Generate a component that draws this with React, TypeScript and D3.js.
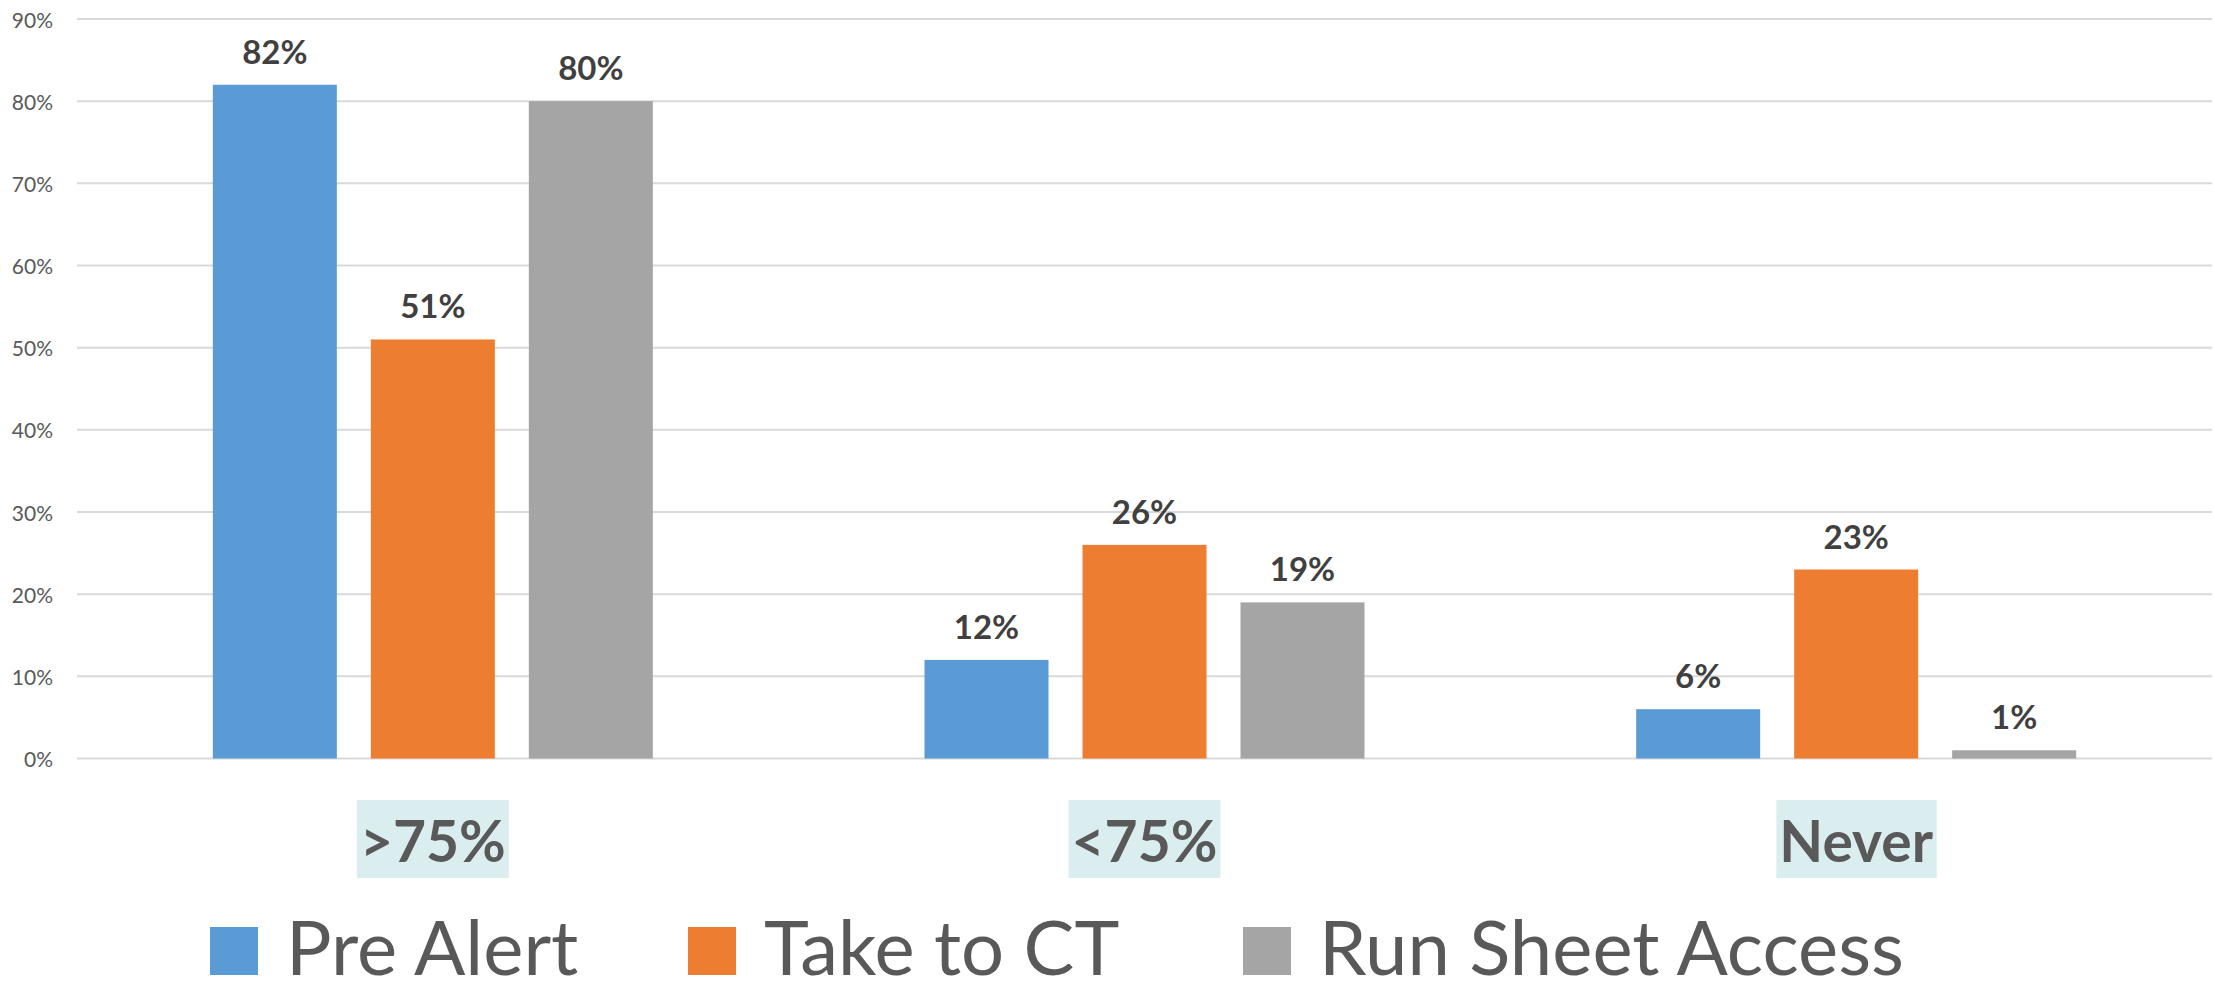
import React, { useEffect, useRef } from "react";
import * as d3 from "d3";

const categories = [">75%", "<75%", "Never"];
const seriesNames = ["Pre Alert", "Take to CT", "Run Sheet Access"];
const preAlert = [82, 12, 6];
const takeToCT = [51, 26, 23];
const runSheetAccess = [80, 19, 1];
const seriesColors = ["#5B9BD5", "#ED7D31", "#A5A5A5"];
const yTicks = [0, 10, 20, 30, 40, 50, 60, 70, 80, 90];
const legendX = [210, 688, 1243];

const W = 2215;
const H = 993;
const FONT = "Lato, 'Open Sans', sans-serif";

export default function App() {
  const ref = useRef<SVGSVGElement | null>(null);

  useEffect(() => {
    document.body.style.margin = "0";
    const svg = d3.select(ref.current);
    svg.selectAll("*").remove();

    const left = 77;
    const right = 2212;
    const top = 19;
    const bottom = 758.5;

    const x0 = d3.scaleBand<string>().domain(categories).range([left, right]).padding(0);
    const y = d3.scaleLinear().domain([0, 90]).range([bottom, top]);

    const barW = 124;
    const barGap = 34;
    const x1 = d3
      .scaleOrdinal<string, number>()
      .domain(seriesNames)
      .range(seriesNames.map((_, i) => (i - 1) * (barW + barGap)));

    const series = [preAlert, takeToCT, runSheetAccess];

    // gridlines and y tick labels
    const grid = svg.append("g");
    grid
      .selectAll("line")
      .data(yTicks)
      .join("line")
      .attr("x1", left)
      .attr("x2", right)
      .attr("y1", (d) => y(d))
      .attr("y2", (d) => y(d))
      .attr("stroke", "#D9D9D9")
      .attr("stroke-width", 2);
    grid
      .selectAll("text")
      .data(yTicks)
      .join("text")
      .attr("x", 53)
      .attr("y", (d) => y(d))
      .attr("text-anchor", "end")
      .attr("dominant-baseline", "central")
      .attr("font-family", FONT)
      .attr("font-size", 21)
      .attr("fill", "#595959")
      .text((d) => `${d}%`);

    // bars and value labels
    series.forEach((vals, si) => {
      const g = svg.append("g");
      const name = seriesNames[si];
      g.selectAll("rect")
        .data(vals)
        .join("rect")
        .attr("x", (_, i) => x0(categories[i])! + x0.bandwidth() / 2 + x1(name) - barW / 2)
        .attr("y", (d) => y(d))
        .attr("width", barW)
        .attr("height", (d) => bottom - y(d))
        .attr("fill", seriesColors[si]);
      g.selectAll("text")
        .data(vals)
        .join("text")
        .attr("x", (_, i) => x0(categories[i])! + x0.bandwidth() / 2 + x1(name))
        .attr("y", (d) => y(d) - 21)
        .attr("text-anchor", "middle")
        .attr("font-family", FONT)
        .attr("font-weight", "bold")
        .attr("font-size", 33)
        .attr("fill", "#404040")
        .text((d) => `${d}%`);
    });

    // category labels with highlighted background
    const cats = svg.append("g");
    categories.forEach((c) => {
      const cx = x0(c)! + x0.bandwidth() / 2;
      const baseline = 862;
      const bg = cats.append("rect").attr("fill", "#DAEDEF");
      const t = cats
        .append("text")
        .attr("x", cx)
        .attr("y", baseline)
        .attr("text-anchor", "middle")
        .attr("font-family", FONT)
        .attr("font-weight", "bold")
        .attr("font-size", 57)
        .attr("fill", "#595959")
        .text(c);
      const bb = (t.node() as SVGTextElement).getBBox();
      bg.attr("x", bb.x - 3)
        .attr("width", bb.width + 6)
        .attr("y", baseline - 62)
        .attr("height", 78);
    });

    // legend
    const legend = svg.append("g");
    seriesNames.forEach((n, i) => {
      legend
        .append("rect")
        .attr("x", legendX[i])
        .attr("y", 927)
        .attr("width", 48)
        .attr("height", 48)
        .attr("fill", seriesColors[i]);
      legend
        .append("text")
        .attr("x", legendX[i] + 76)
        .attr("y", 975)
        .attr("font-family", FONT)
        .attr("font-size", 76)
        .attr("fill", "#595959")
        .text(n);
    });
  }, []);

  return <svg ref={ref} width={W} height={H} style={{ display: "block", background: "#fff" }} />;
}
